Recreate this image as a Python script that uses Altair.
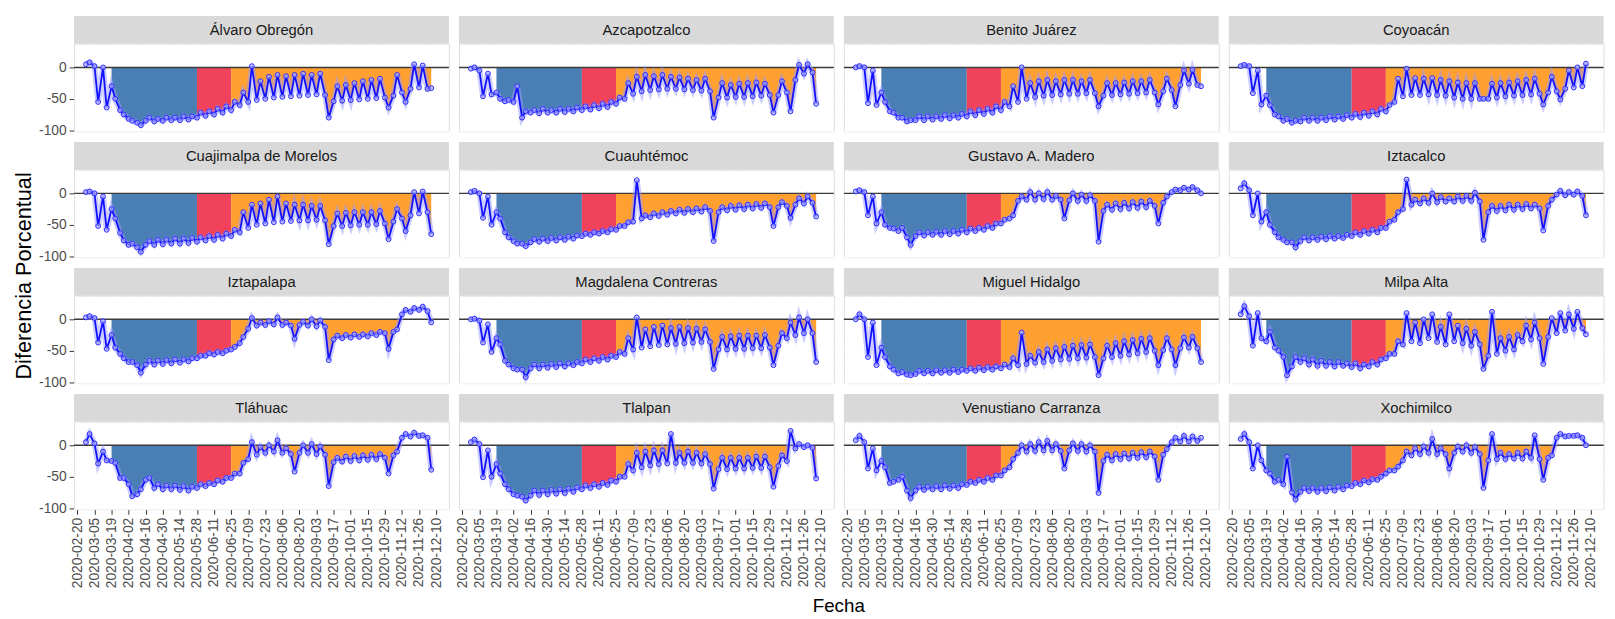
import altair as alt
import pandas as pd

distritos = ["Álvaro Obregón", "Azcapotzalco", "Benito Juárez", "Coyoacán",
             "Cuajimalpa de Morelos", "Cuauhtémoc", "Gustavo A. Madero", "Iztacalco",
             "Iztapalapa", "Magdalena Contreras", "Miguel Hidalgo", "Milpa Alta",
             "Tláhuac", "Tlalpan", "Venustiano Carranza", "Xochimilco"]

# weekly readings: weekday level (Thursdays) and weekend/special day (Sundays)
jueves = pd.date_range("2020-02-27", periods=41, freq="7D")
domingos = pd.date_range("2020-03-01", periods=41, freq="7D")

ao_semana = [5, 2, 0, -30, -68, -82, -88, -85, -86, -85, -84, -84, -83, -80, -77, -75, -72, -68, -60, -55, -52, -50, -48, -47, -46, -45, -44, -43, -44, -54, -53, -52, -51, -50, -49, -48, -45, -40, -34, -32, -34]
ao_domingo = [8, -55, -64, -50, -75, -85, -92, -80, -82, -80, -80, -78, -78, -72, -70, -66, -62, -55, -40, 2, -22, -15, -12, -14, -12, -10, -12, -10, -80, -30, -28, -25, -22, -20, -18, -64, -12, -55, 5, 3, -33]
az_semana = [-2, -5, -10, -40, -54, -55, -80, -72, -73, -72, -72, -71, -70, -68, -67, -65, -63, -58, -50, -42, -38, -36, -35, -34, -34, -35, -36, -37, -38, -48, -48, -47, -47, -46, -45, -44, -44, -40, -20, -10, -8]
az_domingo = [0, -46, -43, -50, -52, -30, -70, -68, -66, -68, -66, -66, -64, -62, -60, -58, -55, -48, -25, -15, -12, -14, -12, -15, -16, -18, -20, -18, -80, -25, -28, -26, -25, -24, -26, -72, -22, -70, 4, 5, -58]
bj_semana = [0, 0, -5, -40, -70, -80, -86, -84, -84, -83, -82, -81, -80, -78, -76, -74, -72, -68, -62, -55, -50, -47, -45, -44, -43, -42, -42, -41, -41, -45, -44, -43, -42, -41, -40, -40, -38, -36, -28, -26, -28]
bj_domingo = [2, -57, -60, -55, -72, -80, -84, -78, -78, -78, -76, -76, -74, -70, -68, -66, -62, -55, -30, 0, -25, -22, -20, -22, -20, -20, -22, -20, -62, -25, -25, -24, -22, -22, -20, -59, -18, -62, -5, -4, -30]
co_semana = [2, 2, -5, -45, -75, -85, -88, -86, -85, -85, -84, -83, -82, -80, -79, -77, -75, -70, -55, -46, -44, -44, -43, -44, -45, -48, -50, -50, -50, -50, -48, -46, -45, -44, -43, -42, -40, -38, -34, -32, -30]
co_domingo = [4, -41, -59, -60, -78, -82, -85, -80, -80, -80, -78, -78, -76, -74, -72, -70, -66, -60, -18, -2, -17, -18, -17, -20, -22, -24, -25, -25, -50, -26, -25, -24, -22, -20, -18, -59, -15, -51, -5, 0, 6]
cu_semana = [2, 0, -5, -25, -63, -82, -86, -82, -82, -81, -80, -80, -79, -77, -75, -74, -72, -68, -62, -55, -50, -48, -46, -45, -44, -43, -43, -42, -43, -52, -52, -51, -50, -50, -49, -48, -45, -40, -35, -32, -30]
cu_domingo = [3, -52, -58, -40, -75, -80, -93, -76, -74, -74, -72, -72, -71, -70, -68, -66, -64, -58, -30, -18, -16, -10, -5, -16, -18, -18, -20, -20, -81, -32, -31, -30, -30, -30, -28, -73, -25, -60, 2, 3, -65]
ct_semana = [2, 0, -5, -30, -62, -76, -80, -78, -77, -76, -75, -74, -72, -68, -66, -64, -62, -58, -52, -45, -40, -38, -36, -34, -32, -31, -30, -29, -28, -30, -27, -26, -25, -24, -23, -22, -22, -20, -18, -16, -15]
ct_domingo = [4, -39, -50, -40, -70, -80, -84, -73, -72, -71, -70, -69, -67, -64, -62, -60, -57, -52, -46, 21, -35, -32, -30, -28, -26, -25, -24, -22, -76, -22, -20, -19, -18, -17, -16, -52, -14, -39, -8, -5, -37]
gam_semana = [3, 2, -5, -30, -55, -60, -70, -68, -67, -66, -66, -65, -64, -62, -60, -58, -55, -48, -40, -12, -10, -10, -9, -10, -10, -11, -12, -12, -12, -28, -26, -25, -24, -23, -22, -20, -15, 2, 5, 6, 5]
gam_domingo = [5, -35, -48, -50, -56, -55, -82, -62, -62, -61, -60, -60, -58, -56, -55, -52, -48, -42, -35, -5, 2, 0, 2, -4, -40, 0, -2, -3, -77, -18, -16, -15, -14, -13, -12, -48, -5, 6, 9, 10, 0]
iz_semana = [8, 5, 0, -30, -62, -74, -78, -76, -75, -74, -73, -72, -71, -68, -66, -64, -62, -55, -42, -25, -18, -16, -15, -14, -13, -13, -12, -12, -13, -30, -28, -27, -26, -25, -24, -24, -20, -2, -3, -2, -4]
iz_domingo = [16, -35, -45, -50, -70, -78, -86, -70, -70, -69, -68, -68, -66, -62, -60, -58, -55, -45, -30, 22, -10, -8, 0, -6, -8, -5, -4, 1, -74, -20, -20, -18, -18, -17, -18, -59, -10, 4, 2, 3, -35]
ip_semana = [3, 2, -3, -25, -55, -68, -73, -72, -72, -71, -70, -69, -67, -62, -58, -56, -54, -48, -38, -15, -10, -9, -8, -9, -10, -9, -10, -11, -12, -32, -30, -29, -28, -27, -25, -22, -20, 8, 12, 15, 13]
ip_domingo = [5, -37, -47, -45, -62, -68, -85, -66, -66, -65, -64, -64, -62, -58, -54, -52, -50, -44, -28, 2, -5, -3, 3, -5, -31, -4, 0, -2, -65, -26, -25, -24, -24, -22, -20, -47, -16, 15, 18, 20, -5]
mc_semana = [0, -2, -8, -30, -66, -78, -80, -78, -78, -77, -76, -75, -73, -70, -68, -66, -64, -60, -55, -48, -45, -43, -41, -40, -39, -38, -37, -36, -36, -48, -48, -47, -47, -46, -46, -45, -42, -30, -25, -22, -22]
mc_domingo = [1, -37, -52, -40, -72, -80, -92, -72, -72, -71, -70, -70, -68, -64, -62, -60, -58, -52, -30, 3, -16, -12, -10, -14, -12, -14, -15, -16, -79, -28, -27, -26, -26, -26, -25, -73, -22, -5, 3, 0, -68]
mh_semana = [0, 0, -5, -45, -75, -86, -88, -87, -86, -86, -85, -85, -84, -82, -82, -81, -80, -78, -76, -73, -71, -69, -68, -66, -64, -63, -62, -61, -60, -62, -60, -58, -56, -54, -52, -50, -49, -48, -46, -45, -46]
mh_domingo = [8, -60, -73, -60, -80, -84, -89, -82, -82, -81, -81, -80, -80, -78, -77, -76, -75, -72, -62, -21, -58, -52, -48, -46, -44, -42, -41, -40, -89, -42, -38, -35, -33, -31, -30, -73, -30, -73, -29, -28, -68]
ma_semana = [8, 5, 10, -35, -45, -60, -75, -68, -72, -74, -74, -75, -74, -76, -78, -75, -72, -62, -55, -40, -35, -38, -30, -36, -40, -35, -38, -42, -40, -58, -55, -50, -48, -35, -32, -30, -28, -22, -18, -15, -14]
ma_domingo = [21, -42, -30, -20, -50, -89, -60, -62, -64, -66, -68, -68, -70, -70, -72, -68, -64, -55, -35, 10, -5, 0, 8, -12, 8, -10, -15, -20, -79, 12, -30, -28, -25, -10, -5, -71, 2, 10, 8, 12, -24]
tl_semana = [5, 3, -10, -25, -52, -62, -78, -55, -68, -70, -70, -71, -72, -68, -65, -62, -58, -52, -45, -22, -15, -12, -10, -12, -14, -12, -12, -14, -15, -27, -26, -25, -24, -23, -22, -20, -16, 12, 14, 15, 12]
tl_domingo = [18, -29, -24, -28, -52, -81, -70, -52, -62, -64, -64, -65, -66, -62, -60, -56, -52, -45, -28, 5, -3, 0, 8, -5, -42, 0, 2, -2, -65, -20, -18, -17, -16, -15, -14, -45, -10, 18, 20, 16, -39]
tp_semana = [5, 2, -8, -30, -62, -78, -82, -80, -79, -78, -77, -76, -74, -70, -68, -66, -63, -58, -50, -40, -35, -32, -30, -29, -28, -28, -28, -29, -30, -38, -38, -37, -37, -36, -36, -35, -33, -25, -5, -3, -4]
tp_domingo = [9, -51, -50, -45, -70, -80, -88, -72, -72, -71, -70, -69, -67, -64, -62, -60, -56, -50, -30, -12, -10, -8, -8, 18, -12, -10, -12, -14, -69, -20, -20, -20, -20, -18, -18, -66, -16, 23, 2, 0, -53]
vc_semana = [8, 5, -5, -25, -60, -55, -72, -72, -71, -70, -70, -69, -68, -63, -60, -58, -55, -48, -35, -12, -10, -9, -8, -8, -9, -8, -9, -10, -10, -25, -24, -22, -21, -20, -19, -18, -15, 5, 6, 6, 7]
vc_domingo = [15, -37, -40, -35, -58, -50, -84, -66, -66, -65, -64, -64, -62, -58, -55, -52, -48, -40, -22, 0, 2, 5, 7, 2, -37, 3, 2, 0, -76, -15, -14, -13, -12, -11, -10, -55, -6, 12, 15, 14, 12]
xo_semana = [10, 5, 0, -40, -58, -62, -75, -74, -73, -74, -73, -72, -70, -65, -62, -59, -55, -45, -40, -24, -16, -14, -12, -14, -14, -12, -10, -12, -14, -24, -22, -22, -21, -21, -20, -22, -20, 12, 14, 15, 12]
xo_domingo = [18, -37, -24, -45, -55, -18, -86, -68, -68, -68, -67, -66, -64, -60, -56, -54, -50, -40, -34, -10, -5, -2, 10, -5, -37, -2, 0, -3, -68, 18, -12, -14, -12, -10, 16, -55, -16, 18, 15, 16, 0]

series = {
    "Álvaro Obregón": (ao_semana, ao_domingo),
    "Azcapotzalco": (az_semana, az_domingo),
    "Benito Juárez": (bj_semana, bj_domingo),
    "Coyoacán": (co_semana, co_domingo),
    "Cuajimalpa de Morelos": (cu_semana, cu_domingo),
    "Cuauhtémoc": (ct_semana, ct_domingo),
    "Gustavo A. Madero": (gam_semana, gam_domingo),
    "Iztacalco": (iz_semana, iz_domingo),
    "Iztapalapa": (ip_semana, ip_domingo),
    "Magdalena Contreras": (mc_semana, mc_domingo),
    "Miguel Hidalgo": (mh_semana, mh_domingo),
    "Milpa Alta": (ma_semana, ma_domingo),
    "Tláhuac": (tl_semana, tl_domingo),
    "Tlalpan": (tp_semana, tp_domingo),
    "Venustiano Carranza": (vc_semana, vc_domingo),
    "Xochimilco": (xo_semana, xo_domingo),
}

fases = [("azul", "2020-03-19", "2020-05-28"),
         ("rojo", "2020-05-28", "2020-06-25"),
         ("naranja", "2020-06-25", "2020-12-31")]
fase_colores = ["#4A7FB5", "#F0435B", "#FFA030"]

rows = []
for d, (sem, dom) in series.items():
    pts = sorted(list(zip(jueves, sem)) + list(zip(domingos, dom)))
    for k, (f, v) in enumerate(pts):
        rows.append({"distrito": d, "fecha": f, "valor": v, "capa": "serie",
                     "fase": "", "primero": k == 0, "cero": 0})
    for fase, a, b in fases:
        a, b = pd.Timestamp(a), pd.Timestamp(b)
        for f, v in pts:
            if a <= f <= b:
                rows.append({"distrito": d, "fecha": f, "valor": min(v, 0), "capa": "area",
                             "fase": fase, "primero": False, "cero": 0})
df = pd.DataFrame(rows)

W, H = 380, 88.7
FONT = "Liberation Sans"

x_major = "round((datum.value - datetime(2020, 1, 20)) / 86400000) % 14 == 0"
x_vals = [alt.DateTime(year=t.year, month=t.month, date=t.day)
          for t in pd.date_range("2020-02-20", "2020-12-17", freq="7D")]
xaxis = alt.Axis(values=x_vals,
                 labelExpr=f"{x_major} ? timeFormat(datum.value, '%Y-%m-%d') : ''",
                 labelAngle=270, title=None, domain=False, tickSize=5,
                 tickColor="#333333",
                 tickOpacity={"condition": {"test": x_major, "value": 1}, "value": 0},
                 gridColor="white",
                 gridWidth={"condition": {"test": x_major, "value": 1.1}, "value": 0.5},
                 labelFontSize=14, labelColor="#4D4D4D", labelPadding=3,
                 labelOverlap=False, labelFlush=False, labelFont=FONT)
xscale = alt.Scale(domain=[alt.DateTime(year=2020, month=2, date=17, hours=7),
                           alt.DateTime(year=2020, month=12, date=20, hours=12)])

y_major = "datum.value % 50 == 0"
yaxis = alt.Axis(values=[-100, -75, -50, -25, 0, 25],
                 labelExpr=f"{y_major} ? toString(datum.value) : ''",
                 title=None, domain=False, tickSize=5, tickColor="#333333",
                 tickOpacity={"condition": {"test": y_major, "value": 1}, "value": 0},
                 gridColor="white",
                 gridWidth={"condition": {"test": y_major, "value": 1.1}, "value": 0.5},
                 labelFontSize=14, labelColor="#4D4D4D", labelPadding=3, labelFont=FONT)
yscale = alt.Scale(domain=[-101.6, 37.7], nice=False, zero=False)

X = alt.X("fecha:T", scale=xscale, axis=xaxis)
Y = alt.Y("valor:Q", scale=yscale, axis=yaxis)

area = alt.Chart().mark_area(opacity=1).encode(
    x=X, y=Y, y2="cero:Q",
    color=alt.Color("fase:N", scale=alt.Scale(domain=["azul", "rojo", "naranja"], range=fase_colores), legend=None),
).transform_filter("datum.capa == 'area'")

regla = alt.Chart().mark_rule(color="#3A3A3A", strokeWidth=1.5).encode(
    y=alt.Y("cero:Q", scale=yscale, axis=yaxis)
).transform_filter("datum.primero")

halo = alt.Chart().mark_line(color="#9A9AFF", strokeWidth=6, opacity=0.5).encode(
    x=X, y=Y).transform_filter("datum.capa == 'serie'")
linea = alt.Chart().mark_line(color="#1010FF", strokeWidth=1.8).encode(
    x=X, y=Y).transform_filter("datum.capa == 'serie'")
puntos = alt.Chart().mark_point(filled=True, fill="#B0B0FF", fillOpacity=0.7, stroke="#2B2BFF",
                                strokeWidth=1, size=24, opacity=1).encode(
    x=X, y=Y).transform_filter("datum.capa == 'serie'")

tira = alt.Chart().mark_rect(color="#D9D9D9").encode(
    x=alt.value(0), x2=alt.value(W), y=alt.value(-28), y2=alt.value(0)
).transform_filter("datum.primero")
tira_txt = alt.Chart().mark_text(fontSize=15, color="#1A1A1A", font=FONT, baseline="middle").encode(
    x=alt.value(W / 2), y=alt.value(-14), text="distrito:N"
).transform_filter("datum.primero")

ytit = alt.Chart().mark_text(text="Diferencia Porcentual", angle=270, fontSize=22, font=FONT,
                             color="black", baseline="middle", align="center").encode(
    x=alt.value(-51), y=alt.value(-20)
).transform_filter("datum.primero && datum.distrito == 'Iztapalapa'")
xtit = alt.Chart().mark_text(text="Fecha", fontSize=19, font=FONT, color="black",
                             baseline="middle", align="center").encode(
    x=alt.value(385), y=alt.value(187)
).transform_filter("datum.primero && datum.distrito == 'Tlalpan'")

capas = alt.layer(area, regla, halo, linea, puntos, tira, tira_txt, ytit, xtit, data=df).properties(
    width=W, height=H)

chart = capas.facet(
    facet=alt.Facet("distrito:N", sort=distritos,
                    header=alt.Header(labels=False, labelExpr="''", labelFontSize=1,
                                      labelPadding=0, title=None)),
    columns=4, spacing={"row": 38.7, "column": 10.2},
).properties(
    bounds="flush", padding={"left": 4, "top": 2, "right": 0, "bottom": 0}
).configure_view(fill="#EBEBEB", strokeWidth=0).configure(font=FONT)

chart.save("out.html", embed_options={"renderer": "svg", "actions": False})
